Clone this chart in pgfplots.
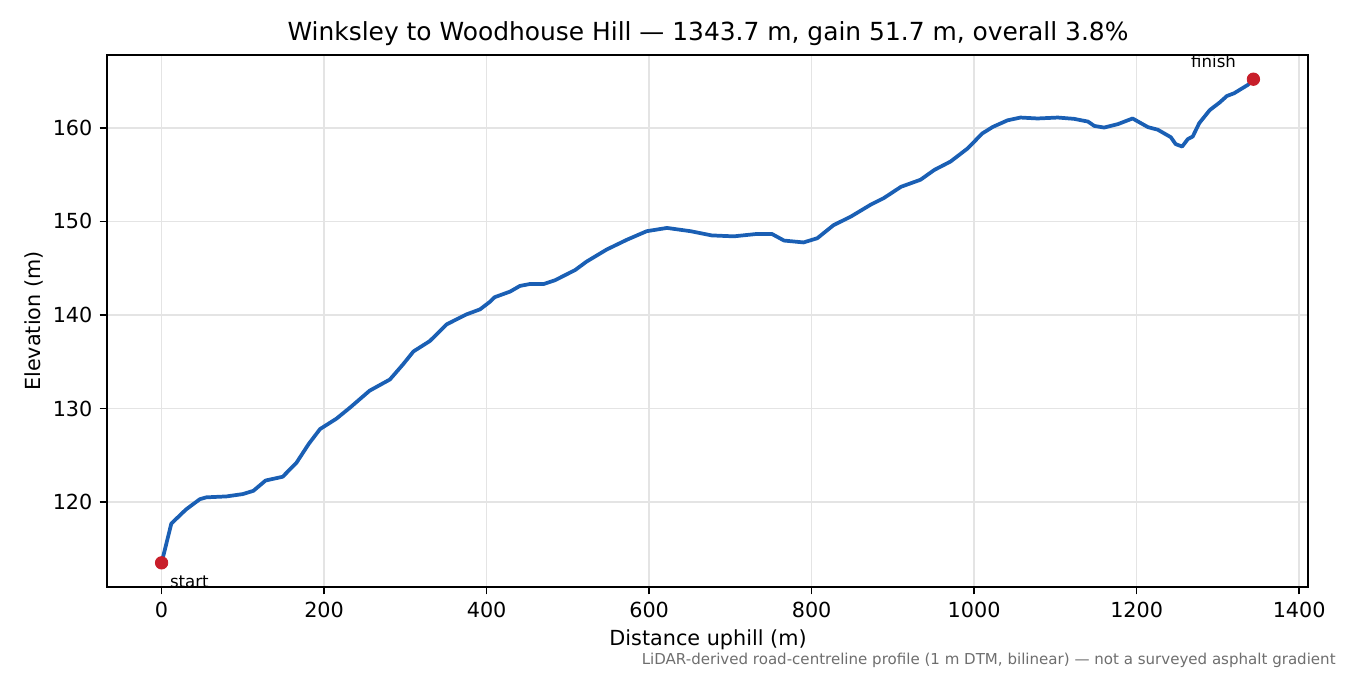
\documentclass[border=0pt]{standalone}
\usepackage{fontspec}
\setmainfont{DejaVu Sans}
\usepackage{pgfplots}
\pgfplotsset{compat=1.18}

\definecolor{lineblue}{RGB}{26,95,180}
\definecolor{dotred}{RGB}{200,30,42}
\definecolor{gridgray}{RGB}{228,228,228}
\definecolor{notegray}{RGB}{110,110,110}

% one pixel of the 1350x675 reference (9 in at 150 dpi)
\newcommand{\px}{0.4818pt}

\pgfplotstableread{
d e
0 113.5
12 117.7
30 119.2
47 120.3
55 120.5
80 120.6
100 120.85
113 121.2
128 122.3
149 122.7
166 124.2
181 126.2
195 127.8
215 128.9
232 130.1
256 131.9
281 133.1
297 134.7
310 136.1
330 137.2
351 139.0
375 140.05
392 140.6
404 141.4
410 141.9
429 142.5
441 143.1
453 143.3
470 143.3
484 143.7
509 144.8
523 145.7
548 147.0
573 148.05
597 148.95
622 149.3
651 148.95
677 148.5
704 148.4
733 148.66
751 148.66
766 147.95
790 147.75
807 148.2
827 149.6
848 150.5
873 151.8
889 152.5
910 153.7
934 154.45
951 155.5
971 156.4
992 157.8
1010 159.4
1023 160.1
1041 160.8
1057 161.1
1078 161.0
1103 161.1
1123 160.96
1140 160.67
1148 160.2
1160 160.03
1177 160.4
1195 161.0
1214 160.07
1226 159.8
1242 159.0
1248 158.26
1256 158.0
1263 158.8
1269 159.07
1277 160.5
1290 161.9
1302 162.7
1311 163.4
1320 163.7
1337 164.6
1343.7 165.2
}\profile

\pgfplotstableread{
d e
0 113.5
1343.7 165.2
}\ends

\begin{document}
\begin{tikzpicture}[x=\px,y=\px]
\path[use as bounding box] (-107,-88) rectangle (1243,587);
\begin{axis}[
    at={(0,0)}, anchor=south west,
    scale only axis,
    width=1201*\px, height=532*\px,
    xmin=-67.185, xmax=1410.885,
    ymin=110.915, ymax=167.785,
    xtick={0,200,...,1400},
    ytick={120,130,...,160},
    xtick pos=bottom, ytick pos=left,
    tick align=outside,
    major tick length=3.5pt,
    every tick/.style={black, line width=0.8pt},
    axis line style={black, line width=0.8pt},
    grid=major,
    major grid style={gridgray, line width=0.8pt},
    tick label style={font=\fontsize{10}{12}\selectfont},
    /pgf/number format/assume math mode=true,
    /pgf/number format/1000 sep={},
    clip=false,
]
\addplot[lineblue, line width=1.8pt, line join=round] table[x=d, y=e] {\profile};
\addplot[only marks, mark=*, mark size=3pt, dotred, mark options={draw=dotred, fill=dotred}] table[x=d, y=e] {\ends};
\node[anchor=west, inner sep=0pt, font=\fontsize{8}{10}\selectfont] at (axis cs:0,113.5) [xshift=8*\px, yshift=-19*\px] {start};
\node[anchor=east, inner sep=0pt, font=\fontsize{8}{10}\selectfont] at (axis cs:1343.7,165.2) [xshift=-17*\px, yshift=18*\px] {finish};
\end{axis}
\node[font=\fontsize{12}{14}\selectfont] at (601,553) {Winksley to Woodhouse Hill — 1343.7 m, gain 51.7 m, overall 3.8\%};
\node[font=\fontsize{10}{12}\selectfont] at (601,-53) {Distance uphill (m)};
\node[font=\fontsize{10}{12}\selectfont, rotate=90] at (-73,266) {Elevation (m)};
\node[anchor=east, inner sep=0pt, font=\fontsize{7.25}{9}\selectfont, text=notegray] at (1229,-73) {LiDAR-derived road-centreline profile (1 m DTM, bilinear) — not a surveyed asphalt gradient};
\end{tikzpicture}
\end{document}
